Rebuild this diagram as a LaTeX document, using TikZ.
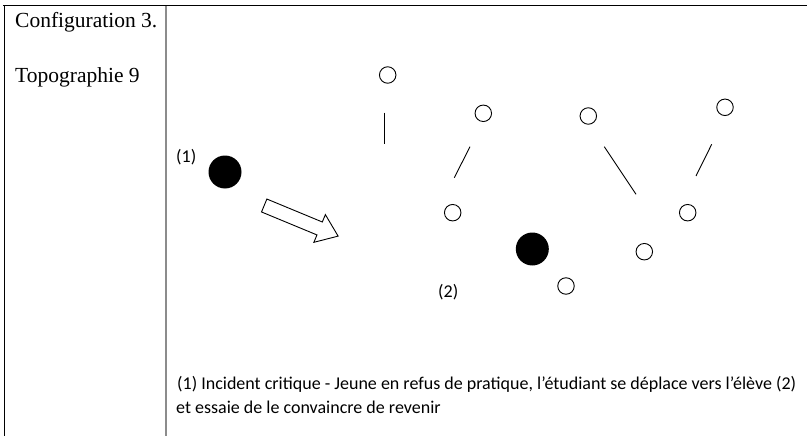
\documentclass[tikz,border=0pt]{standalone}
\usepackage{fontspec}
\setmainfont{Liberation Serif}
\newfontfamily\calib{Carlito}
\begin{document}
\begin{tikzpicture}[x=1pt,y=-1pt,
  small/.style={circle,draw=black,line width=0.9pt,minimum size=16.5pt,inner sep=0pt},
  big/.style={circle,fill=black,minimum size=33pt,inner sep=0pt},
  serif/.style={anchor=base west,inner sep=0pt,font=\fontsize{21.5}{24}\selectfont},
  lab/.style={anchor=base west,inner sep=0pt,font=\calib\fontsize{18}{21}\selectfont},
  seg/.style={line width=0.9pt}]
\useasboundingbox (0,0) rectangle (807,436);
% table frame
\draw[line width=1pt] (3,6) -- (807,6);
\draw[line width=1pt] (4,6) -- (4,436);
\draw[line width=1.2pt,black!45] (166,6) -- (166,436);
% left column text
\node[serif] (conf) at (15,28) {Configuration 3.};
\node[serif] (topo) at (15,83) {Topographie 9};
% student (1)
\node[lab] (l1) at (176,162) {(1)};
\node[big] (p1) at (225,172) {};
% arrow
\begin{scope}[shift={(264.2,205.5)},rotate=-22.5]
\draw[line width=0.9pt,fill=white] (0,-7) -- (60,-7) -- (60,-15) -- (80,0) -- (60,15) -- (60,7) -- (0,7) -- cycle;
\end{scope}
% pupils
\node[small] (c1) at (387.7,75) {};
\node[small] (c2) at (483.3,113.3) {};
\node[small] (c3) at (588.3,116) {};
\node[small] (c4) at (725,107.3) {};
\node[small] (c5) at (452.7,212.7) {};
\node[small] (c6) at (687.7,212.7) {};
\node[small] (c7) at (644.3,251.7) {};
\node[small] (c8) at (566,286) {};
\node[big] (p2) at (532.3,249) {};
\node[lab] (l2) at (438,297) {(2)};
% free strokes
\coordinate (s1a) at (384,112.7); \coordinate (s1b) at (384,144.3);
\coordinate (s2a) at (470,146.7); \coordinate (s2b) at (454.3,177.7);
\coordinate (s3a) at (604.3,146.7); \coordinate (s3b) at (636,194.3);
\coordinate (s4a) at (711.7,144.3); \coordinate (s4b) at (696,176);
\draw[seg] (s1a) -- (s1b);
\draw[seg] (s2a) -- (s2b);
\draw[seg] (s3a) -- (s3b);
\draw[seg] (s4a) -- (s4b);
% caption
\node[lab] (cap1) at (177,389) {(1) Incident critique - Jeune en refus de pratique, l’étudiant se déplace vers l’élève (2)};
\node[lab] (cap2) at (176,413) {et essaie de le convaincre de revenir};
\end{tikzpicture}
\end{document}
